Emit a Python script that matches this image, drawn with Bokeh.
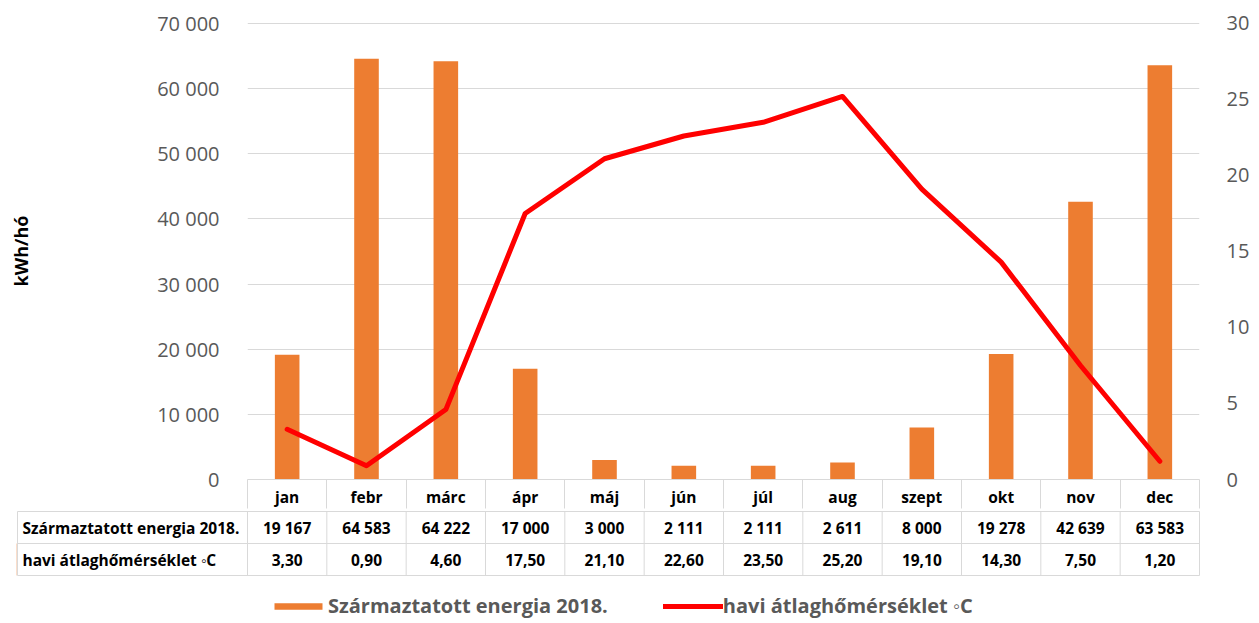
from bokeh.plotting import figure
from bokeh.models import (Range1d, LinearAxis, FixedTicker, Legend, LegendItem, ColumnDataSource)
from bokeh.core.properties import value
from bokeh.embed import file_html
from bokeh.resources import INLINE

# ---- data ----
months = ["jan", "febr", "márc", "ápr", "máj", "jún", "júl", "aug", "szept", "okt", "nov", "dec"]
energy = [19167, 64583, 64222, 17000, 3000, 2111, 2111, 2611, 8000, 19278, 42639, 63583]
temp = [3.30, 0.90, 4.60, 17.50, 21.10, 22.60, 23.50, 25.20, 19.10, 14.30, 7.50, 1.20]
energy_name = "Származtatott energia 2018."
temp_name = "havi átlaghőmérséklet ◦C"
left_ticks = [0, 10000, 20000, 30000, 40000, 50000, 60000, 70000]
right_ticks = [0, 5, 10, 15, 20, 25, 30]
y_label = "kWh/hó"

FONT = "Open Sans"
GRID = "#D9D9D9"
TXT = "#595959"
ORANGE = "#ED7D31"
RED = "#FF0000"
TFS = "15.5px"

idx = list(range(len(months)))
bounds = [i - 0.5 for i in range(len(months) + 1)]

# ---- chart figure ----
W = 1259
FRAME_H = 459
FL, FR = 247, 1199
p1 = figure(width=W, height=22 + FRAME_H + 29, output_backend="svg", toolbar_location=None,
            x_range=Range1d(-0.5, 11.5),
            y_range=Range1d(0, 70000 * FRAME_H / (FRAME_H - 1)),
            x_axis_location=None, y_axis_location=None,
            min_border_left=FL, min_border_right=W - FR, min_border_top=22, min_border_bottom=29)
p1.outline_line_color = None
p1.extra_y_ranges = {"temp": Range1d(0, 30 * FRAME_H / (FRAME_H - 1))}

src = ColumnDataSource(dict(x=idx, energy=energy, temp=temp))
bars = p1.vbar(x="x", top="energy", width=0.31, source=src, fill_color=ORANGE, line_color=None)
line = p1.line(x="x", y="temp", source=src, y_range_name="temp", line_color=RED, line_width=5,
               line_join="round", line_cap="round")

lt = FixedTicker(ticks=left_ticks)
yl = LinearAxis(ticker=lt,
                major_label_overrides={t: f"{t:,}".replace(",", " ") for t in left_ticks})
yl.axis_line_color = None
yl.major_tick_line_color = None
yl.minor_tick_line_color = None
yl.major_label_standoff = 22
yl.major_label_text_font = FONT
yl.major_label_text_font_size = "20px"
yl.major_label_text_color = TXT
yl.axis_label = y_label
yl.axis_label_text_font = FONT
yl.axis_label_text_font_style = "bold"
yl.axis_label_text_font_size = "18px"
yl.axis_label_text_color = "black"
yl.axis_label_standoff = 121
p1.add_layout(yl, "left")

yr = LinearAxis(y_range_name="temp", ticker=FixedTicker(ticks=right_ticks))
yr.axis_line_color = None
yr.major_tick_line_color = None
yr.minor_tick_line_color = None
yr.major_label_standoff = 21
yr.major_label_text_font = FONT
yr.major_label_text_font_size = "20px"
yr.major_label_text_color = TXT
p1.add_layout(yr, "right")

xa = LinearAxis(ticker=FixedTicker(ticks=idx, minor_ticks=bounds),
                major_label_overrides={i: m for i, m in zip(idx, months)})
xa.axis_line_color = GRID
xa.axis_line_width = 1
xa.major_tick_line_color = None
xa.major_tick_in = 0
xa.major_tick_out = 0
xa.minor_tick_line_color = GRID
xa.minor_tick_in = 0
xa.minor_tick_out = 29
xa.major_label_standoff = -23
xa.major_label_text_font = FONT
xa.major_label_text_font_style = "bold"
xa.major_label_text_font_size = TFS
xa.major_label_text_color = "black"
p1.add_layout(xa, "below")

p1.xgrid.visible = False
p1.ygrid.ticker = lt
p1.ygrid.grid_line_color = GRID
p1.ygrid.grid_line_width = 1

# ---- table figure ----
u = (FR - FL) / 12.0     # px per category
L2, R2 = 16, 1200
FW2 = R2 - L2
H2 = 110
x_end = 11.5 + 1 / u
x_start = x_end - FW2 / u
x_left = x_start + 1 / u
y_end = 2 + 1 / 32
y_start = y_end - H2 / 32

p2 = figure(width=W, height=H2, output_backend="svg", toolbar_location=None,
            x_range=Range1d(x_start, x_end), y_range=Range1d(y_start, y_end),
            x_axis_location=None, y_axis_location=None,
            min_border_left=L2, min_border_right=W - R2, min_border_top=0, min_border_bottom=0)
p2.outline_line_color = None
p2.xgrid.visible = False
p2.ygrid.visible = False

rows_y = [0, 1, 2]
p2.segment(x0=[x_left] * 3, x1=[11.5] * 3, y0=rows_y, y1=rows_y, line_color=GRID, line_width=1)
vx = [x_left] + bounds
p2.segment(x0=vx, x1=vx, y0=[0] * len(vx), y1=[2] * len(vx), line_color=GRID, line_width=1)

p2.text(x=[x_left, x_left], y=[1.5, 0.5], text=[energy_name, temp_name], x_offset=5,
        text_align="left", text_baseline="middle", text_font=value(FONT),
        text_font_style="bold", text_font_size=TFS, text_color="black")
e_lbl = [f"{v:,}".replace(",", " ") for v in energy]
t_lbl = [f"{v:.2f}".replace(".", ",") for v in temp]
p2.text(x=idx, y=[1.5] * 12, text=e_lbl, text_align="center", text_baseline="middle",
        text_font=value(FONT), text_font_style="bold", text_font_size=TFS, text_color="black")
p2.text(x=idx, y=[0.5] * 12, text=t_lbl, text_align="center", text_baseline="middle",
        text_font=value(FONT), text_font_style="bold", text_font_size=TFS, text_color="black")

# legend swatches: renderers placed outside the visible range, styled like the chart glyphs
off = x_start - 5
lb = p2.vbar(x=[off], top=[1], bottom=[0], width=0.3, fill_color=ORANGE, line_color=None)
ll = p2.line(x=[off, off + 1], y=[0, 0], line_color=RED, line_width=5, line_cap="round")
legend = Legend(items=[LegendItem(label=energy_name, renderers=[lb]),
                       LegendItem(label=temp_name, renderers=[ll])],
                orientation="horizontal", location=(252, 1))
legend.border_line_color = None
legend.background_fill_alpha = 0
legend.padding = 0
legend.margin = 0
legend.spacing = 55
legend.glyph_width = 60
legend.glyph_height = 8
legend.label_standoff = 0
legend.label_text_font = FONT
legend.label_text_font_style = "bold"
legend.label_text_font_size = "20px"
legend.label_text_color = TXT
p2.add_layout(legend)

open("out.html", "w").write(file_html([p1, p2], INLINE))
